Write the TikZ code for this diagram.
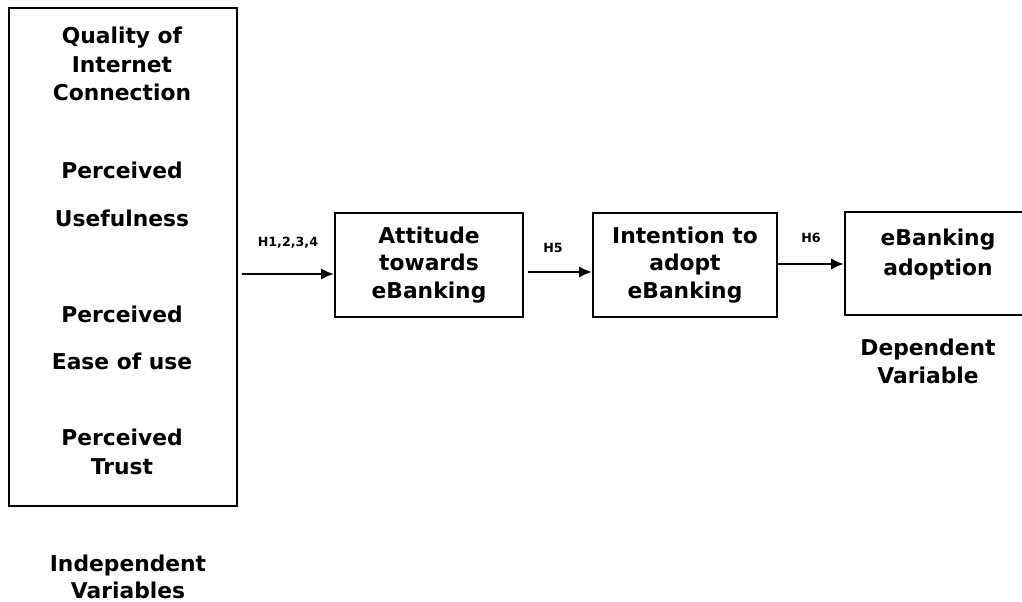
\documentclass[tikz,border=0pt]{standalone}
\usepackage{fontspec}
\setmainfont{DejaVu Sans}
\usetikzlibrary{arrows.meta}
\usetikzlibrary{positioning}
\usetikzlibrary{calc}
\tikzset{box/.style = {draw, line width=1.6pt, align=center, inner sep=0, font=\bfseries\fontsize{15.5}{19.5}\selectfont}}
\tikzset{lbl/.style = {align=center, inner sep=0, font=\bfseries\fontsize{15.5}{20.5}\selectfont}}
\tikzset{hyp/.style = {inner sep=0, font=\bfseries\fontsize{9}{11}\selectfont}}
\tikzset{arr/.style = {line width=1.4pt, -{Latex[length=9pt, width=8pt]}}}

\begin{document}
\begin{tikzpicture}[x=0.025cm, y=-0.025cm]
      \useasboundingbox (0,0) rectangle (1022,602);

      % independent variables
      \node [box, minimum width=5.7cm, minimum height=12.45cm] (iv) at (123,257) {};
      \node [lbl] (qual) at (122,64) {Quality of\\Internet\\Connection};
      \node [lbl] (useful) at (122,194) {Perceived\\[13.5pt]Usefulness};
      \node [lbl] (ease) at (122,337.5) {Perceived\\[12.8pt]Ease of use};
      \node [lbl] (trust) at (122,452) {Perceived\\Trust};
      \node [lbl, font=\bfseries\fontsize{15.5}{19.2}\selectfont] (indep) at (128,576.5) {Independent\\Variables};

      \node [box, minimum width=4.7cm, minimum height=2.6cm] (att) at (429,265) {Attitude\\towards\\eBanking};
      \node [box, minimum width=4.6cm, minimum height=2.6cm] (int) at (685,265) {Intention to\\adopt\\eBanking};
      \node [box, minimum width=4.65cm, minimum height=2.575cm] (adopt) at (938,263.5) {};
      \node [lbl, font=\bfseries\fontsize{15.5}{21}\selectfont, below=0.45cm of adopt.north] (adopttxt) {eBanking\\adoption};
      \node [lbl, font=\bfseries\fontsize{15.5}{19.9}\selectfont] (dep) at (928,361) {Dependent\\Variable};

      % hypotheses
      \coordinate (h1) at (242,274);
      \draw [arr] (h1) -- (h1 -| att.west) node [hyp, midway, yshift=22pt] {H1,2,3,4};
      \draw [arr] ($(att.east)+(4,7)$) -- ($(int.west)+(0,7)$) node [hyp, midway, yshift=17pt, xshift=-5pt] {H5};
      \draw [arr] ($(int.east)+(0,-1)$) -- ($(adopt.west)+(0,0.5)$) node [hyp, midway, yshift=18.4pt] {H6};
    \end{tikzpicture}
\end{document}
